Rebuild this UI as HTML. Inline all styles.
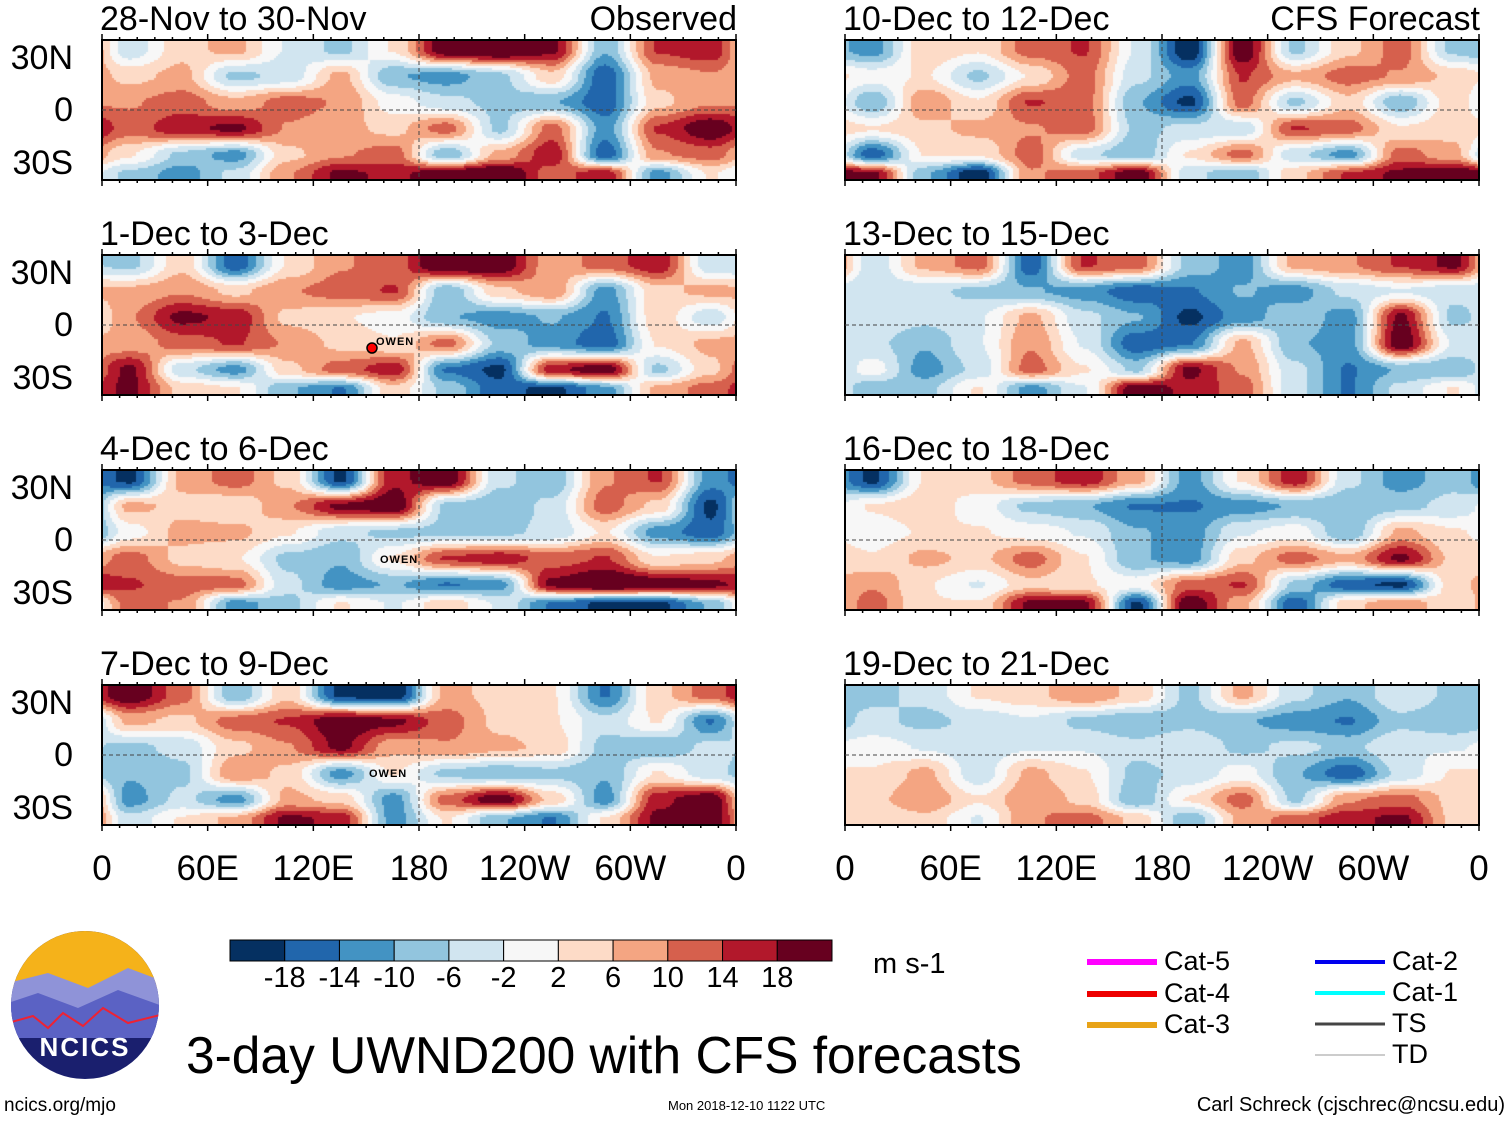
<!DOCTYPE html>
<html><head><meta charset="utf-8">
<style>
body{margin:0;background:#fff;width:1510px;height:1121px;position:relative;overflow:hidden;font-family:"Liberation Sans",sans-serif;}
.t{position:absolute;white-space:nowrap;color:#000;line-height:1;}
canvas{position:absolute;}
.frame{position:absolute;border:2px solid #000;box-sizing:border-box;}
</style></head><body>
<div id="root"></div>
<svg id="ov" width="1510" height="1121" style="position:absolute;left:0;top:0"></svg>
<script>
// grid: 12 longitude columns centered at these lons, 6 latitude rows
const lonCenters=[15,45,75,105,135,165,195,225,255,285,315,345];
const latRows=[35,20,5,-10,-25,-36];
const levels=[-18,-14,-10,-6,-2,2,6,10,14,18];
const colors=['#053061','#2166ac','#4393c3','#92c5de','#d1e5f0','#f7f7f7','#fddbc7','#f4a582','#d6604d','#b2182b','#67001f'];
const panelTitles=['28-Nov to 30-Nov','1-Dec to 3-Dec','4-Dec to 6-Dec','7-Dec to 9-Dec','10-Dec to 12-Dec','13-Dec to 15-Dec','16-Dec to 18-Dec','19-Dec to 21-Dec'];
const p1=[[-4,4,6,-2,-6,2,18,20,16,-8,12,14],[4,6,-6,-4,6,-8,-10,-6,4,-14,6,8],[8,10,6,10,8,0,-4,-6,-8,-14,4,8],[10,14,16,8,6,4,10,-6,10,-10,12,18],[2,-6,-10,4,8,10,-8,6,14,-14,8,10],[-6,-10,-4,8,16,14,18,20,10,14,-10,2]];
const p2=[[-6,4,-14,2,8,10,20,18,6,10,14,-4],[6,8,4,8,10,12,-8,4,8,-10,4,6],[8,16,14,4,2,0,-8,-10,-8,-12,4,-4],[6,10,12,8,4,2,10,-6,-10,-14,2,6],[16,-4,-10,4,10,14,-12,-16,14,18,-6,4],[16,4,2,-8,-12,4,-6,-14,-16,-10,6,10]];
const p3=[[-16,6,10,4,-16,14,18,-4,-8,8,12,-10],[6,4,2,8,16,18,-6,-8,-4,10,4,-16],[0,6,6,2,-4,-6,-6,-6,-4,2,-10,-14],[10,4,2,-6,-8,2,12,14,10,12,2,4],[12,10,10,-4,-10,-8,-12,-10,16,20,18,16],[10,8,-10,-6,2,-2,4,-2,-12,-16,-16,-8]];
const p4=[[18,10,-8,4,-16,-18,6,4,2,-12,4,10],[6,4,10,12,18,16,10,4,2,-4,2,-12],[-6,-4,4,8,16,6,8,6,4,-6,-8,-4],[-8,-6,8,4,-10,2,-6,-8,-6,-8,2,-4],[-10,-4,-10,6,4,-10,10,18,4,-10,14,18],[-4,2,6,16,14,-10,2,-8,-12,2,16,18]];
const p5=[[-10,4,2,10,12,-2,-18,18,-6,4,10,-6],[0,2,-6,2,10,-4,-10,12,6,10,8,4],[-8,8,2,12,10,-8,-16,10,-6,4,-8,4],[2,4,6,8,10,-6,-4,-4,12,10,2,4],[-14,2,2,10,-4,-8,2,10,-4,-10,10,6],[16,-8,-18,8,10,18,-4,-8,4,12,16,18]];
const p6=[[-4,6,10,-14,12,10,-6,-10,6,8,12,16],[-4,-4,-6,-8,-10,-14,-12,-8,-10,-4,-2,-4],[-2,-4,-2,6,-4,-8,-16,-10,-6,-10,16,-6],[-4,-8,-2,8,-2,-14,-12,6,-8,-10,18,-2],[0,-10,-4,10,2,-6,16,8,-4,-12,-8,-8],[-8,-6,2,-10,-2,18,14,10,-4,-12,-4,2]];
const p7=[[-16,2,4,10,14,6,-10,2,14,-4,-10,-6],[2,4,0,-6,-8,-12,-12,-10,-8,-8,-6,-4],[0,2,2,0,-2,-8,-10,-2,0,-8,6,2],[2,6,4,10,2,-8,-10,4,10,6,16,4],[8,2,-2,4,2,0,10,12,-6,-14,-16,4],[10,2,2,16,16,-16,18,6,-14,4,8,2]];
const p8=[[-6,-4,2,4,8,4,-6,6,-4,-8,-2,-6],[-4,-6,-4,-2,-6,-8,-6,-8,-10,-12,-6,-8],[0,-2,-4,-2,-2,-4,-2,-6,-4,-6,-2,-2],[2,6,-4,6,2,-6,-4,0,-8,-14,-4,2],[4,8,2,8,4,-8,2,10,-6,8,10,4],[2,4,-2,8,10,4,-8,6,10,14,16,4]];
const panelData=[p1,p2,p3,p4,p5,p6,p7,p8];
const xTickLabels=['0','60E','120E','180','120W','60W','0'];
const yTickLabels=['30N','0','30S'];
const cbLabels=['-18','-14','-10','-6','-2','2','6','10','14','18'];

const root=document.getElementById('root');
const ov=document.getElementById('ov');
const NS='http://www.w3.org/2000/svg';
const colX=[102,845], rowY=[40,255,470,685], PW=634, PH=140;
function xOf(c,lon){return colX[c]+lon/360*PW;}
function yOf(r,lat){return rowY[r]+(40-lat)*PH/80;}
function colorOf(v){let i=0;while(i<levels.length&&v>levels[i])i++;return colors[i];}
function sample(d,lon,lat){
  let fc=((lon-15)/30+12)%12; let c0=Math.floor(fc), tx=fc-c0, c1=(c0+1)%12;
  tx=tx*tx*(3-2*tx);
  let r0,ty;
  if(lat>=latRows[0]){r0=0;ty=0;}else if(lat<=latRows[5]){r0=4;ty=1;}
  else{r0=0;while(lat<latRows[r0+1])r0++;ty=(latRows[r0]-lat)/(latRows[r0]-latRows[r0+1]);}
  ty=ty*ty*(3-2*ty);
  const a=d[r0][c0]*(1-tx)+d[r0][c1]*tx, b=d[r0+1][c0]*(1-tx)+d[r0+1][c1]*tx;
  return 1.2*(a*(1-ty)+b*ty);
}
function txt(s,x,y,size,name,extra){
  const d=document.createElement('div');d.className='t';d.textContent=s;
  d.style.left=x+'px';d.style.top=y+'px';d.style.fontSize=size+'px';
  if(extra)Object.assign(d.style,extra);
  
  
  root.appendChild(d);return d;
}
function line(x1,y1,x2,y2,stroke,w,dash,name){
  const l=document.createElementNS(NS,'line');
  l.setAttribute('x1',x1);l.setAttribute('y1',y1);l.setAttribute('x2',x2);l.setAttribute('y2',y2);
  l.setAttribute('stroke',stroke);l.setAttribute('stroke-width',w);if(dash)l.setAttribute('stroke-dasharray',dash);
  
  
  ov.appendChild(l);
}
panelData.forEach((d,i)=>{
  const c=i<4?0:1, r=i%4;
  const cv=document.createElement('canvas');cv.width=PW;cv.height=PH;
  cv.style.left=colX[c]+'px';cv.style.top=rowY[r]+'px';
  
  
  root.appendChild(cv);
  const ctx=cv.getContext('2d');
  for(let py=0;py<PH;py+=2)for(let px=0;px<PW;px+=2){
    const lon=px/PW*360, lat=40-py*80/PH;
    ctx.fillStyle=colorOf(sample(d,lon,lat));ctx.fillRect(px,py,2,2);
  }
  const f=document.createElement('div');f.className='frame';
  f.style.left=(colX[c]-1)+'px';f.style.top=(rowY[r]-1)+'px';f.style.width=(PW+2)+'px';f.style.height=(PH+2)+'px';
  
  
  root.appendChild(f);
  line(colX[c],yOf(r,0),colX[c]+PW,yOf(r,0),'#444',1,'4,3','equator-line');
  line(xOf(c,180),rowY[r],xOf(c,180),rowY[r]+PH,'#444',1,'4,3','dateline');
  for(let lon=0;lon<=360;lon+=10){const L=lon%60?3:6;
    line(xOf(c,lon),rowY[r]-L,xOf(c,lon),rowY[r],'#000',1.5,null,'tick');
    line(xOf(c,lon),rowY[r]+PH,xOf(c,lon),rowY[r]+PH+L,'#000',1.5,null,'tick');}
  txt(panelTitles[i],colX[c]-2,2+r*215,34,'panel-title');
  if(r===0)txt(i===0?'Observed':'CFS Forecast',colX[c]+PW+1,2,34,'panel-subtitle',{transform:'translateX(-100%)'});
  if(c===0)[30,0,-30].forEach((lat,k)=>txt(yTickLabels[k],73,yOf(r,lat)-17,34,'y-tick-label',{transform:'translateX(-100%)'}));
});
[0,1].forEach(c=>xTickLabels.forEach((s,k)=>txt(s,xOf(c,k*60),851,35,'x-tick-label',{transform:'translateX(-50%)'})));
// storm
[[376,337,'OWEN'],[380,555,'OWEN'],[369,769,'OWEN']].forEach(a=>txt(a[2],a[0],a[1],11,'storm-label',{fontWeight:'bold',letterSpacing:'1px'}));
const st=document.createElementNS(NS,'circle');st.setAttribute('cx',372);st.setAttribute('cy',348);st.setAttribute('r',5);
st.setAttribute('fill','#f00');st.setAttribute('stroke','#000');st.setAttribute('stroke-width',1.5);


ov.appendChild(st);
// colorbar
const cbX=230,cbW=602/11;
colors.forEach((col,k)=>{const b=document.createElementNS(NS,'rect');
  b.setAttribute('x',cbX+k*cbW);b.setAttribute('y',940);b.setAttribute('width',cbW);b.setAttribute('height',21);
  b.setAttribute('fill',col);b.setAttribute('stroke','#000');b.setAttribute('stroke-width',1);
  
  
  ov.appendChild(b);});
cbLabels.forEach((s,k)=>txt(s,cbX+(k+1)*cbW,964,29,'colorbar-label',{transform:'translateX(-50%)'}));
txt('m s-1',873,950,29,'colorbar-units');
// legend
const leg=[['Cat-5','#ff00ff',1087,962,6],['Cat-4','#ee0000',1087,994,6],['Cat-3','#e8a317',1087,1025,6],['Cat-2','#0000ee',1315,962,4],['Cat-1','#00ffff',1315,993,4],['TS','#444',1315,1024,3],['TD','#999',1315,1055,1]];
leg.forEach(l=>{line(l[2],l[3],l[2]+70,l[3],l[1],l[4],null,'legend-line-'+l[0].toLowerCase());
  txt(l[0],l[2]+77,l[3]-14,27,'legend-entry');});
txt('3-day UWND200 with CFS forecasts',186,1030,51.5,'chart-title');
txt('ncics.org/mjo',4,1096,19,'footer-url');
txt('Mon 2018-12-10 1122 UTC',668,1099,13,'footer-date');
txt('Carl Schreck (cjschrec@ncsu.edu)',1505,1095,20,'footer-author',{transform:'translateX(-100%)'});
</script>
<svg width="160" height="160" style="position:absolute;top:928px;left:8px">
<defs><clipPath id="cl"><circle cx="77" cy="77" r="74"/></clipPath></defs>
<g clip-path="url(#cl)">
<rect width="160" height="160" fill="#1a1f6e"/>
<rect width="160" height="60" fill="#f5b21a"/>
<path d="M0 55 L40 45 L80 60 L120 40 L160 55 L160 90 L0 90Z" fill="#8f93d8"/>
<path d="M0 75 L30 65 L70 80 L110 62 L160 80 L160 110 L0 110Z" fill="#5b62c4"/>
<path d="M0 95 L25 88 L40 100 L55 85 L75 98 L95 80 L120 95 L160 85" fill="none" stroke="#e23" stroke-width="2"/>
</g>
<text x="77" y="128" text-anchor="middle" font-family="Liberation Sans" font-weight="bold" font-size="26" fill="#fff" letter-spacing="2">NCICS</text>
</svg>
</body></html>
